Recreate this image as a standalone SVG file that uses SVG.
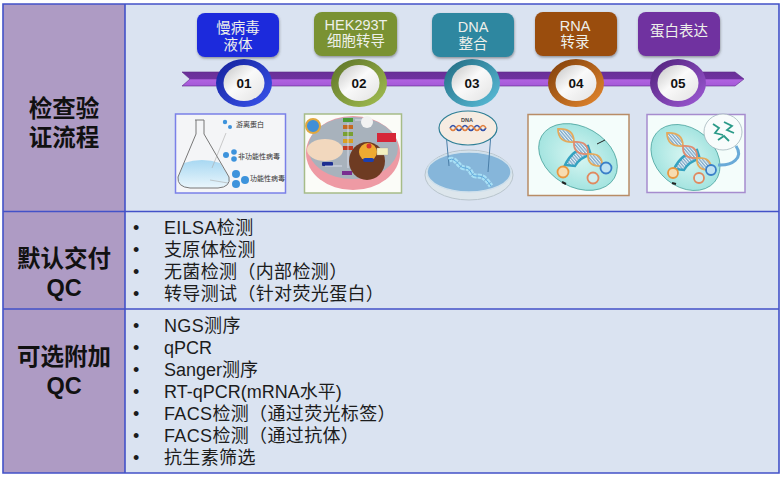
<svg xmlns="http://www.w3.org/2000/svg" xmlns:xlink="http://www.w3.org/1999/xlink" width="782" height="478" viewBox="0 0 782 478">
<style>
text{font-family:"Liberation Sans","Noto Sans CJK SC",sans-serif}
.lab{font-size:23.500px;font-weight:bold;fill:#111;text-anchor:middle}
.li{font-size:18px;fill:#1c1c1c}
.cjk{letter-spacing:.35px}
.pt{font-size:14.500px;fill:#eef0ea;text-anchor:middle}
.num{font-size:13.500px;font-weight:bold;fill:#111;text-anchor:middle}
.cap{font-size:7px;fill:#333}
.grid{fill:none;stroke:#4352c8;stroke-width:1.6}
.disc{fill:url(#white)}
.pill{filter:url(#sh)}
</style>
<defs>
<filter id="sh" x="-10%" y="-10%" width="125%" height="130%"><feDropShadow dx="0.5" dy="1.5" stdDeviation="1.2" flood-color="#444" flood-opacity=".5"/></filter>
<filter id="soft"><feGaussianBlur stdDeviation="0.4"/></filter>
<linearGradient id="white" x1="0" y1="0" x2="1" y2="1"><stop offset="0" stop-color="#c4c4c4"/><stop offset=".45" stop-color="#fafafa"/><stop offset="1" stop-color="#e2e2e2"/></linearGradient>
<linearGradient id="bar" x1="0" y1="0" x2="0" y2="1"><stop offset="0" stop-color="#6a2f98"/><stop offset=".5" stop-color="#6f329f"/><stop offset=".55" stop-color="#b062e0"/><stop offset="1" stop-color="#a55ad8"/></linearGradient>
<linearGradient id="g1" x1="0" y1="0" x2="1" y2="1"><stop offset="0" stop-color="#14209a"/><stop offset="1" stop-color="#3a55ee"/></linearGradient>
<linearGradient id="g2" x1="0" y1="0" x2="1" y2="1"><stop offset="0" stop-color="#5c7226"/><stop offset="1" stop-color="#a4c052"/></linearGradient>
<linearGradient id="g3" x1="0" y1="0" x2="1" y2="1"><stop offset="0" stop-color="#206a80"/><stop offset="1" stop-color="#5cc0dc"/></linearGradient>
<linearGradient id="g4" x1="0" y1="0" x2="1" y2="1"><stop offset="0" stop-color="#7c3c08"/><stop offset="1" stop-color="#e88a30"/></linearGradient>
<linearGradient id="g5" x1="0" y1="0" x2="1" y2="1"><stop offset="0" stop-color="#4e1f78"/><stop offset="1" stop-color="#a05cd8"/></linearGradient>
<linearGradient id="liq" x1="0" y1="0" x2="0" y2="1"><stop offset="0" stop-color="#a8d8f2"/><stop offset="1" stop-color="#eaf6fc"/></linearGradient>
<radialGradient id="cellg"><stop offset="0" stop-color="#d8f6f2"/><stop offset="1" stop-color="#a4e4e0"/></radialGradient>
<pattern id="hatch" width="2.400" height="2.400" patternUnits="userSpaceOnUse" patternTransform="rotate(-40)"><rect width="2.400" height="2.400" fill="#e8f4f8"/><rect width="1.300" height="2.400" fill="#7fa8c8"/></pattern>
<g id="helix" stroke-width="1.800">
<path d="M30 17Q14 21 7 36L17 37Q22 28 33 26Z" fill="url(#hatch)" stroke="#35a2c0" stroke-width="2.400"/>
<path d="M0 0Q16-1 16 13Q0 14 0 0Z" fill="url(#hatch)" stroke="#e4aa5c"/>
<path d="M16 13Q31 12 30 25Q15 26 16 13Z" fill="url(#hatch)" stroke="#e08c70"/>
<path d="M30 25Q45 24 44 37Q29 38 30 25Z" fill="url(#hatch)" stroke="#e4aa5c"/>
</g>
</defs>
<rect width="782" height="478" fill="#fff"/>
<g id="table">
<rect x="3" y="4" width="122" height="469" fill="#ae9bc4"/>
<rect x="125" y="4" width="654" height="469" fill="#dae3f1"/>
<path class="grid" d="M3 4H779V473H3ZM125 4V473M3 211.500H779M3 309H779"/>
</g>
<g id="row-check"><text class="lab" x="64" y="117">检查验</text><text class="lab" x="64" y="146">证流程</text></g>
<g id="connectors">
<path d="M182 72H735L744 79L735 86H182L190 79Z" fill="url(#bar)" stroke="#5c2a88" stroke-width=".6"/>
</g>
<g id="step1"><rect class="pill" x="197" y="13" width="82" height="44" rx="8" fill="#1a2bdc"/><text class="pt" x="238" y="33">慢病毒</text><text class="pt" x="238" y="50">液体</text>
<ellipse cx="244" cy="83" rx="28" ry="24" fill="url(#g1)"/><ellipse class="disc" cx="244" cy="83" rx="20.500" ry="18"/><text class="num" x="244" y="88">01</text></g>
<g id="step2"><rect class="pill" x="314" y="12" width="83" height="44" rx="8" fill="#7a9233"/><text class="pt" x="356" y="30">HEK293T</text><text class="pt" x="356" y="46">细胞转导</text>
<ellipse cx="359" cy="83" rx="28" ry="24" fill="url(#g2)"/><ellipse class="disc" cx="359" cy="83" rx="20.500" ry="18"/><text class="num" x="359" y="88">02</text></g>
<g id="step3"><rect class="pill" x="432" y="13" width="82" height="44" rx="8" fill="#2f87a0"/><text class="pt" x="473" y="32">DNA</text><text class="pt" x="473" y="49">整合</text>
<ellipse cx="472" cy="83" rx="28" ry="24" fill="url(#g3)"/><ellipse class="disc" cx="472" cy="83" rx="20.500" ry="18"/><text class="num" x="472" y="88">03</text></g>
<g id="step4"><rect class="pill" x="535" y="12" width="82" height="44" rx="8" fill="#9a4d0c"/><text class="pt" x="575" y="31">RNA</text><text class="pt" x="575" y="47">转录</text>
<ellipse cx="576" cy="83" rx="28" ry="24" fill="url(#g4)"/><ellipse class="disc" cx="576" cy="83" rx="20.500" ry="18"/><text class="num" x="576" y="88">04</text></g>
<g id="step5"><rect class="pill" x="638" y="12" width="82" height="44" rx="8" fill="#7030a0"/><text class="pt" x="679" y="36">蛋白表达</text>
<ellipse cx="678" cy="83" rx="28" ry="24" fill="url(#g5)"/><ellipse class="disc" cx="678" cy="83" rx="20.500" ry="18"/><text class="num" x="678" y="88">05</text></g>

<g id="img-flask">
<rect x="175.500" y="114" width="110" height="79" fill="#f4f5f7" stroke="#7a80e8" stroke-width="1.500"/>
<g filter="url(#soft)">
<path d="M184 163Q202 157 220 163L229 177Q231 187 218 188H190Q177 187 178 177Z" fill="url(#liq)"/>
<path d="M195 120H204M196 120V134L178 177Q177 187 190 188H218Q231 187 229 177L204 134V120" fill="none" stroke="#777" stroke-width="1"/>
<g fill="#3d93dc"><circle cx="225" cy="122" r="2.200"/><circle cx="230" cy="127" r="2"/><circle cx="226" cy="155" r="3"/><circle cx="234" cy="152" r="2.800"/><circle cx="234" cy="159" r="2.800"/><circle cx="236" cy="174" r="4"/><circle cx="245" cy="180" r="4"/><circle cx="236" cy="184" r="4"/></g>
<path d="M226 133L212 168M210 180L228 183" stroke="#aaa" stroke-width=".6" fill="none"/>
</g>
<text class="cap" x="236" y="126.500">游离蛋白</text><text class="cap" x="238" y="158.500">非功能性病毒</text><text class="cap" x="250" y="180.500">功能性病毒</text>
</g>

<g id="img-cell">
<rect x="304.500" y="114" width="97" height="79" fill="#fbfcf8" stroke="#a6bc88" stroke-width="1.500"/>
<g filter="url(#soft)">
<ellipse cx="353" cy="153" rx="47" ry="37" fill="#ee9aa4"/>
<ellipse cx="353" cy="148" rx="45" ry="31" fill="#a8b2bc"/>
<circle cx="313" cy="126" r="7" fill="#3f8fd8" stroke="#e0a840" stroke-width="2"/>
<ellipse cx="325" cy="150" rx="18" ry="11" fill="#f2d8be"/>
<ellipse cx="367" cy="161" rx="18" ry="19" fill="#6e3a24"/>
<ellipse cx="368" cy="152" rx="9" ry="9" fill="#eeaa30"/>
<circle cx="369" cy="146" r="2.500" fill="#d83030"/>
<rect x="363" y="158" width="11" height="4" rx="2" fill="#1c3fb0"/>
<rect x="343" y="118" width="10" height="4" fill="#4a9a30"/>
<rect x="343" y="125" width="10" height="4" fill="#c46a20"/><rect x="343" y="132" width="10" height="4" fill="#7aa030"/><rect x="343" y="139" width="10" height="4" fill="#d8a020"/><rect x="343" y="146" width="10" height="4" fill="#c43a20"/>
<circle cx="367" cy="122" r="6" fill="#f2f2f2"/>
<rect x="377" y="133" width="19" height="9" fill="#d62838"/>
<rect x="377" y="148" width="11" height="7" fill="#f4f0c0" stroke="#999" stroke-width=".3"/>
<rect x="322" y="162" width="11" height="4" rx="1" fill="#1c2f90"/>
<rect x="342" y="171" width="10" height="4" fill="#7a2f90"/>
<path d="M348 123V168M325 166H342M355 120H362" stroke="#eef" stroke-width=".7" fill="none"/>
</g>
</g>

<g id="img-dish">
<g filter="url(#soft)">
<ellipse cx="469" cy="175" rx="44" ry="25" fill="#dde6ec" stroke="#b8c4cc"/>
<ellipse cx="469" cy="172" rx="42" ry="20" fill="#86b6da" stroke="#cfe0ec" stroke-width="1.500"/>
<path d="M446 133L449 166M491 133L488 172" stroke="#4a7ea8" stroke-width="1"/>
<path d="M449 160C456 156 458 168 465 168S470 176 476 176S484 176 491 186" fill="none" stroke="#a8e0f6" stroke-width="5" stroke-dasharray="4 1"/>
<path d="M449 160C456 156 458 168 465 168S470 176 476 176S484 176 491 186" fill="none" stroke="#5aa8dc" stroke-width="1"/>
<ellipse cx="468" cy="128" rx="29" ry="17" fill="#f6ece2" stroke="#2f7f96" stroke-width="1.200"/>
<path d="M450 128q3-5 6 0t6 0t6 0t6 0t6 0t6 0" fill="none" stroke="#3050a8" stroke-width="1.500"/>
<path d="M450 128q3 5 6 0t6 0t6 0t6 0t6 0t6 0" fill="none" stroke="#e08040" stroke-width="1.500"/>
</g>
<text x="467" y="122" font-size="5.500" font-weight="bold" fill="#444" text-anchor="middle">DNA</text>
</g>

<g id="img-rna">
<rect x="528" y="114.500" width="101" height="81" fill="#f4fdfb" stroke="#b88c66" stroke-width="1.500"/>
<g filter="url(#soft)">
<ellipse cx="578" cy="157" rx="42" ry="30" transform="rotate(30 578 157)" fill="url(#cellg)" stroke="#3f9c96" stroke-width=".7"/>
<use xlink:href="#helix" href="#helix" x="558" y="129"/>
<circle cx="563" cy="172" r="5.500" fill="#f8dcb0" stroke="#e89840" stroke-width="1.800"/>
<circle cx="593" cy="178" r="5.500" fill="#cfeef0" stroke="#e08a60" stroke-width="1.800"/>
<circle cx="606" cy="168" r="5.500" fill="#bfe2f2" stroke="#3a80c8" stroke-width="1.800"/>
<path d="M605 140L597 144" stroke="#222"/><path d="M562 182L566 184" stroke="#222" stroke-width="2"/>
</g>
</g>

<g id="img-protein">
<rect x="647" y="114.500" width="98" height="78" fill="#f4fdfb" stroke="#a68cce" stroke-width="1.500"/>
<g filter="url(#soft)">
<ellipse cx="685.500" cy="157.500" rx="38" ry="29" transform="rotate(40 685.500 157.500)" fill="url(#cellg)" stroke="#3f9c96" stroke-width=".7"/>
<use xlink:href="#helix" href="#helix" x="667" y="133" />
<circle cx="673" cy="173" r="5" fill="#f8dcb0" stroke="#e89840" stroke-width="1.800"/>
<circle cx="699" cy="178" r="5" fill="#cfeef0" stroke="#e08a60" stroke-width="1.800"/>
<circle cx="711" cy="170" r="5" fill="#bfe2f2" stroke="#3a80c8" stroke-width="1.800"/>
<path d="M736 146C744 158 732 166 718 165" fill="none" stroke="#6aaad8" stroke-width="3"/>
<ellipse cx="723" cy="132" rx="19" ry="18" fill="#f8fcfc" stroke="#88a0a8" stroke-width=".6"/>
<path d="M713 124l6 4l-4 5l8 2M724 122l8 4l-5 4l7 3M718 140l6-4l5 5" fill="none" stroke="#2a9a88" stroke-width="1.800"/>
<path d="M672 183L676 184" stroke="#222" stroke-width="2"/>
</g>
</g>

<g id="row-default">
<text class="lab" x="64" y="267">默认交付</text><text class="lab" x="64" y="296">QC</text>
<text class="li" x="133" y="234">•</text><text class="li cjk" x="164" y="234">EILSA检测</text>
<text class="li" x="133" y="256">•</text><text class="li cjk" x="164" y="256">支原体检测</text>
<text class="li" x="133" y="278">•</text><text class="li cjk" x="164" y="278">无菌检测（内部检测）</text>
<text class="li" x="133" y="300">•</text><text class="li cjk" x="164" y="300">转导测试（针对荧光蛋白）</text>
</g>
<g id="row-optional">
<text class="lab" x="64" y="365">可选附加</text><text class="lab" x="64" y="394">QC</text>
<text class="li" x="133" y="332">•</text><text class="li cjk" x="164" y="332">NGS测序</text>
<text class="li" x="133" y="354">•</text><text class="li" x="164" y="354">qPCR</text>
<text class="li" x="133" y="376">•</text><text class="li" x="164" y="376">Sanger测序</text>
<text class="li" x="133" y="398">•</text><text class="li" x="164" y="398">RT-qPCR(mRNA水平)</text>
<text class="li" x="133" y="420">•</text><text class="li cjk" x="164" y="420">FACS检测（通过荧光标签）</text>
<text class="li" x="133" y="442">•</text><text class="li cjk" x="164" y="442">FACS检测（通过抗体）</text>
<text class="li" x="133" y="464">•</text><text class="li cjk" x="164" y="464">抗生素筛选</text>
</g>
</svg>
